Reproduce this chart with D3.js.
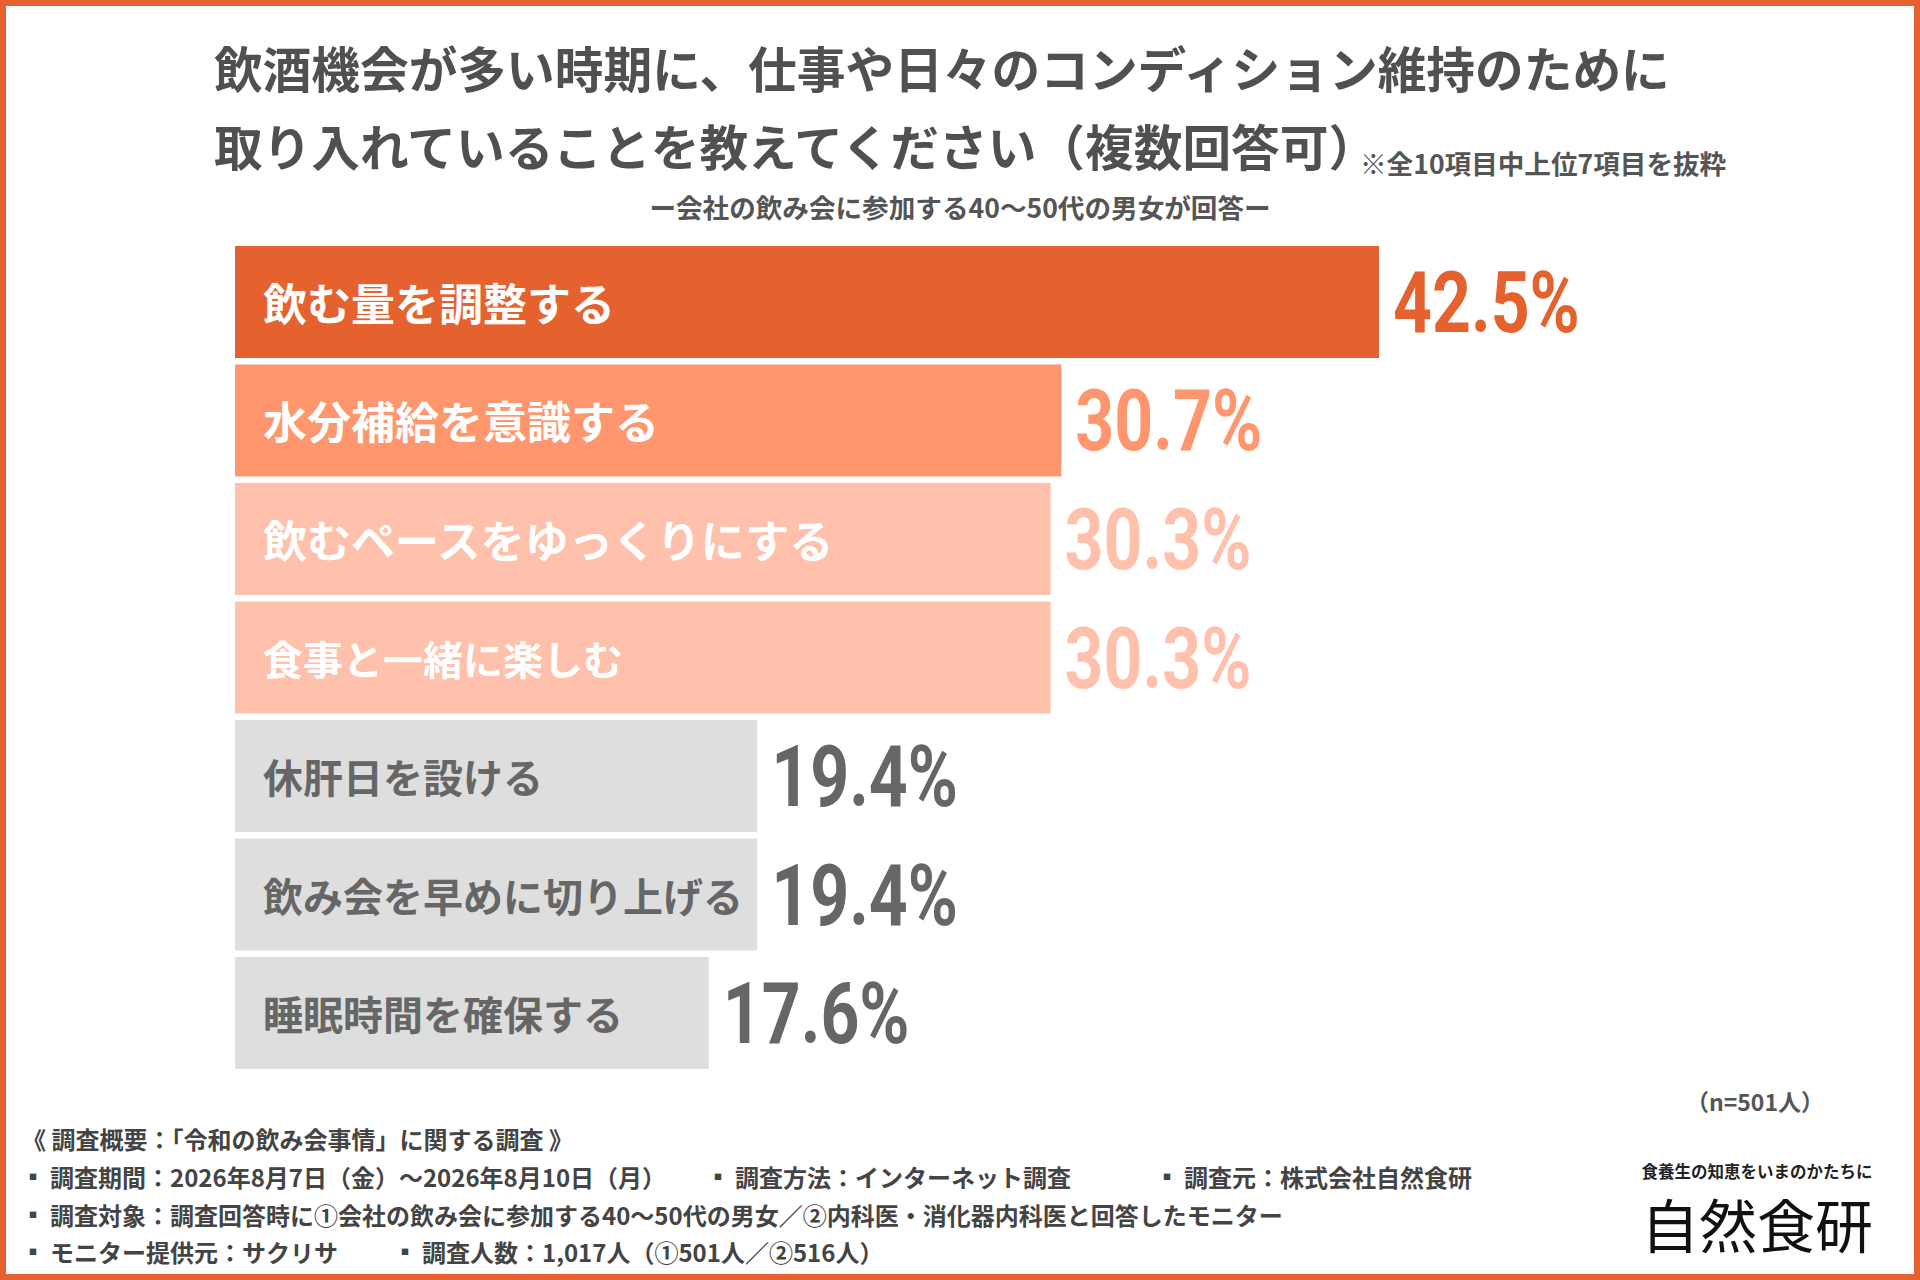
<!DOCTYPE html>
<html>
<head>
<meta charset="utf-8">
<script src="https://cdn.jsdelivr.net/npm/d3@7"></script>
<style>
  html, body { margin: 0; padding: 0; background: #fff; }
  svg { display: block; }
  text { font-family: "Noto Sans CJK JP", "Noto Sans", sans-serif; }
</style>
</head>
<body>
<svg id="chart" width="1920" height="1280"></svg>
<script>
// ---- data ----
const titleLines = [
  "飲酒機会が多い時期に、仕事や日々のコンディション維持のために",
  "取り入れていることを教えてください（複数回答可）"
];
const noteText = "※全10項目中上位7項目を抜粋";
const subtitleText = "ー会社の飲み会に参加する40〜50代の男女が回答ー";
const categories = [
  "飲む量を調整する",
  "水分補給を意識する",
  "飲むペースをゆっくりにする",
  "食事と一緒に楽しむ",
  "休肝日を設ける",
  "飲み会を早めに切り上げる",
  "睡眠時間を確保する"
];
const values = [42.5, 30.7, 30.3, 30.3, 19.4, 19.4, 17.6];
const sampleText = "（n=501人）";
const footerTitle = "《 調査概要：「令和の飲み会事情」に関する調査 》";
const footerItems = [
  ["調査期間：2026年8月7日（金）～2026年8月10日（月）", "調査方法：インターネット調査", "調査元：株式会社自然食研"],
  ["調査対象：調査回答時に①会社の飲み会に参加する40〜50代の男女／②内科医・消化器内科医と回答したモニター"],
  ["モニター提供元：サクリサ", "調査人数：1,017人（①501人／②516人）"]
];
const logoTagline = "食養生の知恵をいまのかたちに";
const logoName = "自然食研";

// ---- styles ----
const ORANGE = "#E5622F";
const barFill = ["#E5622F", "#FF966E", "#FFC1AC", "#FFC1AC", "#DEDEDE", "#DEDEDE", "#DEDEDE"];
const labelFill = ["#ffffff", "#ffffff", "#ffffff", "#ffffff", "#666666", "#666666", "#666666"];
const labelSize = [44, 44, 44, 40, 40, 40, 40];
const valueFill = ["#E5622F", "#FF966E", "#FFC1AC", "#FFC1AC", "#666666", "#666666", "#666666"];

const svg = d3.select("#chart");

// border
svg.append("rect").attr("x", 3).attr("y", 3).attr("width", 1914).attr("height", 1274)
  .attr("fill", "#fff").attr("stroke", ORANGE).attr("stroke-width", 6);

// title
svg.selectAll("text.title").data(titleLines).join("text")
  .attr("class", "title")
  .attr("x", 214)
  .attr("y", (d, i) => i === 0 ? 67 : 145)
  .attr("dominant-baseline", "central")
  .attr("font-size", 48.7).attr("font-weight", 700).attr("fill", "#505050")
  .text(d => d);

svg.append("text").attr("x", 1360).attr("y", 162)
  .attr("dominant-baseline", "central")
  .attr("font-size", 26.6).attr("font-weight", 700).attr("fill", "#555")
  .text(noteText);

svg.append("text").attr("x", 960).attr("y", 206)
  .attr("text-anchor", "middle").attr("dominant-baseline", "central")
  .attr("font-size", 26.6).attr("font-weight", 700).attr("fill", "#555")
  .text(subtitleText);

// scales
const x = d3.scaleLinear().domain([0, 42.5]).range([235, 1379]);
const y = d3.scaleBand().domain(categories).range([246, 1069]).paddingInner(0.055).paddingOuter(0);

const rows = categories.map((c, i) => ({ c, v: values[i], i }));

svg.selectAll("rect.bar").data(rows).join("rect")
  .attr("class", "bar")
  .attr("x", x(0))
  .attr("y", d => y(d.c))
  .attr("width", d => x(d.v) - x(0))
  .attr("height", y.bandwidth())
  .attr("fill", d => barFill[d.i]);

svg.selectAll("text.cat").data(rows).join("text")
  .attr("class", "cat")
  .attr("x", x(0) + 28)
  .attr("y", d => y(d.c) + y.bandwidth() / 2)
  .attr("dominant-baseline", "central")
  .attr("font-size", d => labelSize[d.i]).attr("font-weight", 700)
  .attr("fill", d => labelFill[d.i])
  .text(d => d.c);

const vg = svg.selectAll("g.val").data(rows).join("g")
  .attr("class", "val")
  .attr("transform", d => `translate(${x(d.v) + 14},${y(d.c) + y.bandwidth() / 2 + 30}) scale(0.79,1)`);
vg.append("text")
  .attr("x", 0).attr("y", 0)
  .style("font-family", "Roboto, 'Noto Sans', sans-serif")
  .attr("font-size", 86).attr("font-weight", 700)
  .attr("fill", d => valueFill[d.i])
  .text(d => d.v.toFixed(1) + "%");

// sample size
svg.append("text").attr("x", 1755).attr("y", 1101)
  .attr("text-anchor", "middle").attr("dominant-baseline", "central")
  .attr("font-size", 23).attr("font-weight", 700).attr("fill", "#555")
  .text(sampleText);

// footer
const footerColor = "#444";
svg.append("text").attr("x", 22).attr("y", 1138)
  .attr("dominant-baseline", "central")
  .attr("font-size", 24).attr("font-weight", 700).attr("fill", footerColor)
  .text(footerTitle);

const itemX = [[50, 735, 1184], [50], [50, 422]];
const lineY = [1176, 1214, 1251];
footerItems.forEach((line, li) => {
  line.forEach((t, ti) => {
    const tx = itemX[li][ti];
    svg.append("text").attr("x", tx - 17).attr("y", lineY[li])
      .attr("text-anchor", "middle").attr("dominant-baseline", "central")
      .attr("font-size", 8).attr("font-weight", 700).attr("fill", footerColor)
      .text("■");
    svg.append("text").attr("x", tx).attr("y", lineY[li])
      .attr("dominant-baseline", "central")
      .attr("font-size", 24).attr("font-weight", 700).attr("fill", footerColor)
      .text(t);
  });
});

// logo
svg.append("text").attr("x", 1757).attr("y", 1171)
  .attr("text-anchor", "middle").attr("dominant-baseline", "central")
  .attr("font-size", 16.5).attr("font-weight", 700).attr("fill", "#222")
  .text(logoTagline);
svg.append("text").attr("x", 1757).attr("y", 1223)
  .attr("text-anchor", "middle").attr("dominant-baseline", "central")
  .attr("font-size", 58).attr("font-weight", 400).attr("fill", "#111")
  .text(logoName);
</script>
</body>
</html>
